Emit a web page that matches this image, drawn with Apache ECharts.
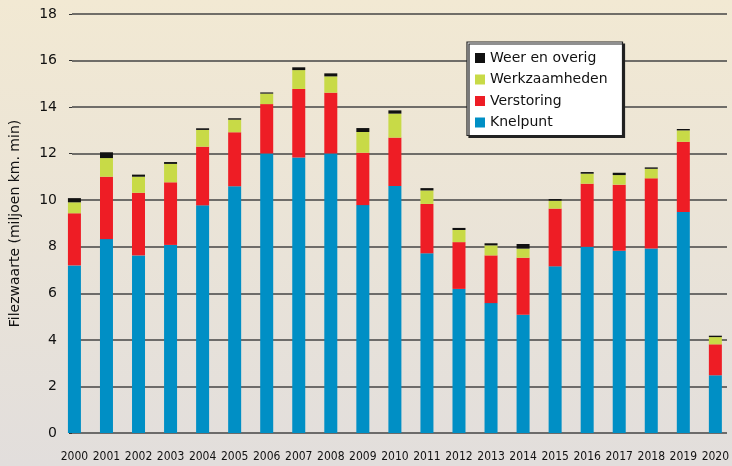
<!DOCTYPE html>
<html>
<head>
<meta charset="utf-8">
<script src="https://cdn.jsdelivr.net/npm/echarts@6/dist/echarts.min.js"></script>
<style>
  html, body { margin: 0; padding: 0; }
  #chart { width: 732px; height: 466px; }
</style>
</head>
<body>
<div id="chart"></div>
<script>
// jaren
var jaren = ['2000','2001','2002','2003','2004','2005','2006','2007','2008','2009','2010',
  '2011','2012','2013','2014','2015','2016','2017','2018','2019','2020'];
// filezwaarte per oorzaak (miljoen km. min)
var knelpunt = [7.2, 8.33, 7.63, 8.08, 9.78, 10.6, 12.01, 11.84, 12.01, 9.79, 10.61,
  7.72, 6.19, 5.58, 5.08, 7.16, 8.0, 7.83, 7.93, 9.49, 2.48];
var verstoring = [2.24, 2.68, 2.69, 2.69, 2.52, 2.32, 2.12, 2.94, 2.61, 2.25, 2.08,
  2.12, 2.01, 2.05, 2.45, 2.48, 2.71, 2.84, 3.01, 3.02, 1.33];
var werkzaamheden = [0.47, 0.8, 0.69, 0.79, 0.72, 0.54, 0.45, 0.81, 0.7, 0.89, 1.03,
  0.58, 0.52, 0.43, 0.39, 0.34, 0.43, 0.41, 0.41, 0.49, 0.31];
var weer = [0.18, 0.25, 0.09, 0.08, 0.07, 0.06, 0.05, 0.12, 0.13, 0.17, 0.14,
  0.1, 0.09, 0.09, 0.2, 0.07, 0.07, 0.1, 0.06, 0.06, 0.06];
// y-as
var yMin = 0, yMax = 18, yStap = 2;

var font = 'DejaVu Sans';
var myChart = echarts.init(document.getElementById('chart'));

function laag(naam, data, kleur) {
  return {
    name: naam,
    type: 'bar',
    stack: 'totaal',
    xAxisIndex: 0,
    yAxisIndex: 0,
    barWidth: 13,
    itemStyle: { color: kleur },
    data: data
  };
}

var option = {
  backgroundColor: {
    type: 'linear', x: 0, y: 0, x2: 0, y2: 1,
    colorStops: [
      { offset: 0, color: '#f2e9d3' },
      { offset: 1, color: '#e2dedc' }
    ]
  },
  animation: false,
  textStyle: { fontFamily: font },
  legend: {
    left: 467,
    top: 42,
    orient: 'vertical',
    backgroundColor: '#fff',
    borderColor: '#222',
    borderWidth: 1.2,
    shadowColor: '#222',
    shadowOffsetX: 2,
    shadowOffsetY: 2,
    padding: [9, 15, 6, 8],
    itemWidth: 10,
    itemHeight: 10,
    itemGap: 7.5,
    itemTextGap: 7,
    icon: 'rect',
    textStyle: { fontSize: 14, color: '#111', fontFamily: font },
    data: ['Weer en overig', 'Werkzaamheden', 'Verstoring', 'Knelpunt']
  },
  grid: [
    // staven
    { left: 58.4, right: -3.6, top: 14, bottom: 33 },
    // rasterlijnen en y-as
    { left: 68, right: 5, top: 14, bottom: 33 }
  ],
  xAxis: [
    {
      gridIndex: 0,
      type: 'category',
      data: jaren,
      axisLine: { show: false },
      axisTick: { show: false },
      axisLabel: {
        margin: 18,
        fontSize: 12,
        color: '#111',
        fontFamily: 'Liberation Sans Narrow, DejaVu Sans Condensed, sans-serif',
        interval: 0
      }
    },
    { gridIndex: 1, type: 'value', show: false }
  ],
  yAxis: [
    { gridIndex: 0, type: 'value', min: yMin, max: yMax, interval: yStap, show: false },
    {
      gridIndex: 1,
      type: 'value',
      min: yMin,
      max: yMax,
      interval: yStap,
      name: 'Filezwaarte (miljoen km. min)',
      nameLocation: 'middle',
      nameGap: 50,
      nameTextStyle: { fontSize: 14, color: '#111' },
      axisLine: { show: false },
      axisTick: { show: true, length: 3, lineStyle: { color: '#333' } },
      axisLabel: { fontSize: 14, color: '#111', margin: 15 },
      splitLine: { lineStyle: { color: '#444', width: 1.5 } }
    }
  ],
  series: [
    laag('Knelpunt', knelpunt, '#008fc5'),
    laag('Verstoring', verstoring, '#ee1d25'),
    laag('Werkzaamheden', werkzaamheden, '#c8da47'),
    laag('Weer en overig', weer, '#111111')
  ]
};

myChart.setOption(option);
</script>
</body>
</html>
